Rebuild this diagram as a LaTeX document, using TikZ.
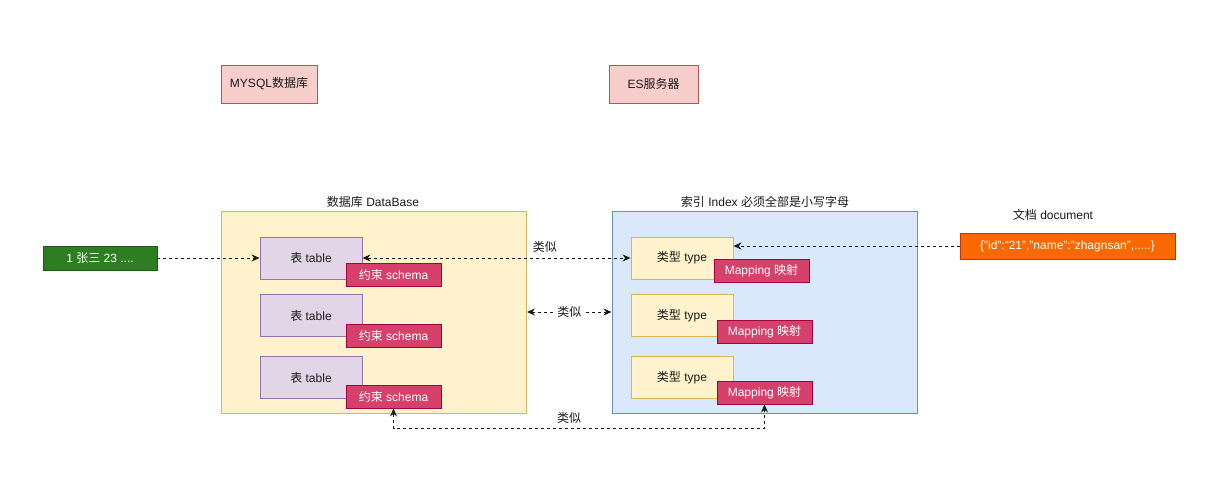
\documentclass[tikz,border=0pt]{standalone}
\usepackage{fontspec}
\setmainfont{Liberation Sans}
\newfontfamily\cjk{Noto Sans CJK SC}
\usetikzlibrary{arrows.meta}
\definecolor{redfill}{HTML}{F8CECC}
\definecolor{redline}{HTML}{B85450}
\definecolor{yelfill}{HTML}{FFF2CC}
\definecolor{yelline}{HTML}{D6B656}
\definecolor{purfill}{HTML}{E1D5E7}
\definecolor{purline}{HTML}{9673A6}
\definecolor{bluefill}{HTML}{DAE8FC}
\definecolor{blueline}{HTML}{6C8EBF}
\definecolor{pinkfill}{HTML}{D5416B}
\definecolor{pinkline}{HTML}{A50040}
\definecolor{greenfill}{HTML}{2E7D22}
\definecolor{greenline}{HTML}{1E5A14}
\definecolor{orangefill}{HTML}{FA6800}
\definecolor{orangeline}{HTML}{C73500}
\definecolor{txt}{HTML}{1A1A1A}
\begin{document}
\begin{tikzpicture}[x=1pt,y=-1pt,
  box/.style={draw, line width=0.9pt, inner sep=0pt, font=\fontsize{12}{14}\selectfont, text=txt},
  toplbl/.style={box, fill=redfill, draw=redline, minimum height=38pt},
  container/.style={draw, line width=0.9pt, inner sep=0pt, minimum width=305pt, minimum height=202pt},
  tblbox/.style={box, fill=purfill, draw=purline, minimum width=102pt, minimum height=42pt},
  typebox/.style={box, fill=yelfill, draw=yelline, minimum width=102pt, minimum height=42pt},
  tagbox/.style={box, fill=pinkfill, draw=pinkline, text=white, minimum width=95pt, minimum height=23pt},
  title/.style={font=\fontsize{12}{14}\selectfont, text=txt, inner sep=1pt},
  conn/.style={draw=txt, line width=0.9pt, dash pattern=on 3pt off 3pt},
  tip/.style={-{Stealth[length=8pt,width=7pt]}},
  tips/.style={{Stealth[length=8pt,width=7pt]}-{Stealth[length=8pt,width=7pt]}}
]
\fill[white] (0,0) rectangle (1211,501);
\useasboundingbox (0,0) rectangle (1211,501);

% top labels
\node[toplbl, minimum width=96pt] (mysql) at (269,84) {MYSQL{\cjk 数据库}};
\node[toplbl, minimum width=89pt] (es) at (653.5,84) {ES{\cjk 服务器}};

% containers
\node[container, fill=yelfill, draw=yelline] (dbc) at (374,312) {};
\node[container, fill=bluefill, draw=blueline] (esc) at (764.5,312) {};
\node[title] (dbt) at (373,202) {{\cjk 数据库} DataBase};
\node[title] (est) at (765,202) {{\cjk 索引} Index {\cjk 必须全部是小写字母}};

% tables
\node[tblbox] (t1) at (311,258) {{\cjk 表} table};
\node[tblbox] (t2) at (311,315.5) {{\cjk 表} table};
\node[tblbox] (t3) at (311,377.5) {{\cjk 表} table};
\node[tagbox] (s1) at (393.5,274.5) {{\cjk 约束} schema};
\node[tagbox] (s2) at (393.5,336) {{\cjk 约束} schema};
\node[tagbox] (s3) at (393.5,396.5) {{\cjk 约束} schema};

% types
\node[typebox] (y1) at (682,258) {{\cjk 类型} type};
\node[typebox] (y2) at (682,315.5) {{\cjk 类型} type};
\node[typebox] (y3) at (682,377.5) {{\cjk 类型} type};
\node[tagbox] (m1) at (761.5,270.5) {Mapping {\cjk 映射}};
\node[tagbox] (m2) at (764.5,332) {Mapping {\cjk 映射}};
\node[tagbox] (m3) at (764.5,392.5) {Mapping {\cjk 映射}};

% data row
\node[box, fill=greenfill, draw=greenline, text=white, minimum width=114pt, minimum height=24pt] (row) at (100,258) {1 {\cjk 张三} 23 ....};

% document
\node[title] (doct) at (1053,215) {{\cjk 文档} document};
\node[box, fill=orangefill, draw=orangeline, text=white, minimum width=215pt, minimum height=26pt] (doc) at (1067.5,246) {\{"id":"21","name":"zhagnsan",.....\}};

% connectors
\draw[conn, tip] (row) -- (t1);
\draw[conn, tips] (t1) -- (y1) node[title, pos=0.68, above=4pt] (l1) {\cjk 类似};
\draw[conn, tips] (dbc.east) -- (esc.west) node[title, midway, fill=white, inner sep=2pt] (l2) {\cjk 类似};
\draw[conn, tip] (doc.west) -- (doc.west -| y1.east);
\draw[conn, tips] (s3.south) -- ++(0,20) -| (m3.south);
\node[title] (l3) at (569,418) {\cjk 类似};
\end{tikzpicture}
\end{document}
